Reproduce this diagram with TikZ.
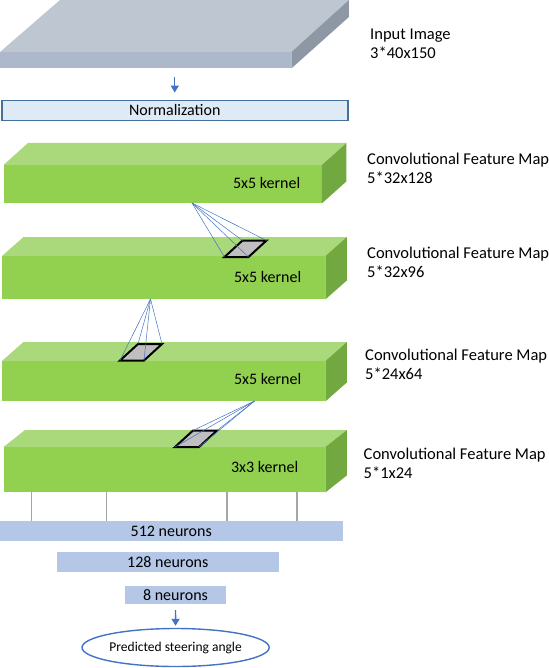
\documentclass[tikz,border=0pt]{standalone}
\usepackage{fontspec}
\setmainfont{Carlito}
\usetikzlibrary{positioning,calc,shapes.geometric,arrows.meta}

\definecolor{imgtop}{HTML}{BDC6D1}
\definecolor{imgfront}{HTML}{ADB9CA}
\definecolor{imgside}{HTML}{8E98A4}
\definecolor{maptop}{HTML}{A9D97A}
\definecolor{mapfront}{HTML}{92D050}
\definecolor{mapside}{HTML}{71A840}
\definecolor{normfill}{HTML}{DEEAF6}
\definecolor{normdraw}{HTML}{41719C}
\definecolor{neuronfill}{HTML}{B4C7E7}
\definecolor{flowblue}{HTML}{4472C4}
\definecolor{kernelgray}{HTML}{BFBFBF}
\definecolor{linkgray}{HTML}{A5A5A5}

\tikzset{
	front face/.style={fill=mapfront,draw=none,inner sep=0pt,anchor=north west},
	top face/.style={fill=maptop},
	side face/.style={fill=mapside},
	kernel box/.style={fill=kernelgray,draw=black,line width=2pt,line join=miter},
	fan/.style={draw=flowblue,line width=0.5pt},
	flow/.style={draw=flowblue,line width=1.4pt,-{Triangle[length=7pt,width=8pt]}},
	link/.style={draw=linkgray,line width=1.5pt},
	neurons/.style={fill=neuronfill,draw=none,inner sep=0pt,font=\fontsize{16}{19}\selectfont},
	kernel text/.style={font=\fontsize{16}{19}\selectfont,inner sep=0pt},
	map label/.style={font=\fontsize{16.5}{19}\selectfont,align=left,anchor=west,inner sep=0pt}
}

% front face node, then top and side faces (#1 name, #2 depth x, #3 depth y)
\newcommand{\mapfaces}[3]{%
	\fill[top face] (#1.north west) -- ++(#2,-#3) -- ($(#1.north east)+(#2,-#3)$) -- (#1.north east) -- cycle;
	\fill[side face] (#1.north east) -- ++(#2,-#3) -- ($(#1.south east)+(#2,-#3)$) -- (#1.south east) -- cycle;
}
% kernel patch lying on a top face (#1 name, #2 bottom left)
\newcommand{\kernelpatch}[2]{%
	\coordinate (#1-bl) at #2;
	\coordinate (#1-br) at ($(#1-bl)+(24,0)$);
	\coordinate (#1-tr) at ($(#1-bl)+(42,-16.5)$);
	\coordinate (#1-tl) at ($(#1-bl)+(18,-16.5)$);
	\draw[kernel box] (#1-bl) -- (#1-br) -- (#1-tr) -- (#1-tl) -- cycle;
}

\begin{document}
\begin{tikzpicture}[x=1pt,y=-1pt]
	\useasboundingbox (0,0) rectangle (548,668);

	% input image
	\node[front face,fill=imgfront,minimum width=291pt,minimum height=16pt] (input) at (0,52) {};
	\fill[top face,fill=imgtop] (input.north west) -- ++(60,-52) -- ($(input.north east)+(57.5,-52)$) -- (input.north east) -- cycle;
	\fill[side face,fill=imgside] (input.north east) -- ++(57.5,-52) -- ++(0,17) -- (input.south east) -- cycle;
	\node[map label] (inputlbl) at (370,44) {Input Image\\3*40x150};

	% normalization
	\node[draw=normdraw,fill=normfill,line width=1.8pt,minimum width=346pt,minimum height=20pt,inner sep=0pt,
		font=\fontsize{16}{19}\selectfont] (norm) at (174.75,110.5) {Normalization};
	\draw[flow,shorten <=9pt,shorten >=7pt] (input.south -| norm.north) -- (norm.north);

	% convolutional feature maps
	\node[front face,minimum width=318pt,minimum height=38pt] (conv1) at (3.5,165) {};
	\mapfaces{conv1}{24.5}{22}
	\node[front face,minimum width=323pt,minimum height=43pt] (conv2) at (2,256) {};
	\mapfaces{conv2}{21.5}{19}
	\node[front face,minimum width=323pt,minimum height=40pt] (conv3) at (2,361) {};
	\mapfaces{conv3}{21.5}{19}
	\node[front face,minimum width=321.5pt,minimum height=45pt] (conv4) at (3.5,447) {};
	\mapfaces{conv4}{21.5}{17}

	\node[kernel text,left=21.5pt of conv1.east,yshift=1.5pt] (k1) {5x5 kernel};
	\node[kernel text,left=24pt of conv2.east,yshift=0.5pt] (k2) {5x5 kernel};
	\node[kernel text,left=24pt of conv3.east,yshift=2pt] (k3) {5x5 kernel};
	\node[kernel text,left=27pt of conv4.east,yshift=2.5pt] (k4) {3x3 kernel};

	\node[map label] (lbl1) at (367,168.8) {Convolutional Feature Map\\5*32x128};
	\node[map label] (lbl2) at (367,262.2) {Convolutional Feature Map\\5*32x96};
	\node[map label] (lbl3) at (365,364.6) {Convolutional Feature Map\\5*24x64};
	\node[map label] (lbl4) at (363.5,463.3) {Convolutional Feature Map\\5*1x24};

	% receptive fields
	\kernelpatch{p2}{(224.5,257)}
	\kernelpatch{p3}{(120,360.5)}
	\kernelpatch{p4}{(175,447)}
	\coordinate (a1) at (192,203);
	\coordinate (a2) at (150.5,299);
	\coordinate (a3) at (254.5,401);
	\foreach \c in {bl,br,tr,tl}{
		\draw[fan] (a1) -- (p2-\c);
		\draw[fan] (a2) -- (p3-\c);
		\draw[fan] (a3) -- (p4-\c);
	}

	% fully connected layers
	\node[neurons,minimum width=342.5pt,minimum height=20pt] (n512) at (171.25,531) {512 neurons};
	\node[neurons,minimum width=221.5pt,minimum height=20pt] (n128) at (167.8,562) {128 neurons};
	\node[neurons,minimum width=101pt,minimum height=18pt] (n8) at (175.5,595) {8 neurons};
	\foreach \x in {31.5,106.5,227,297}
		\draw[link] (conv4.south -| \x,0) -- (n512.north -| \x,0);

	% output
	\node[ellipse,draw=flowblue,line width=1.4pt,minimum width=177pt,minimum height=38pt,inner sep=0pt,
		font=\fontsize{13.5}{16}\selectfont] (out) at (175.6,647.5) {Predicted steering angle};
	\draw[flow,shorten <=6pt,shorten >=2pt] (n8.south) -- (out.north);
\end{tikzpicture}
\end{document}
